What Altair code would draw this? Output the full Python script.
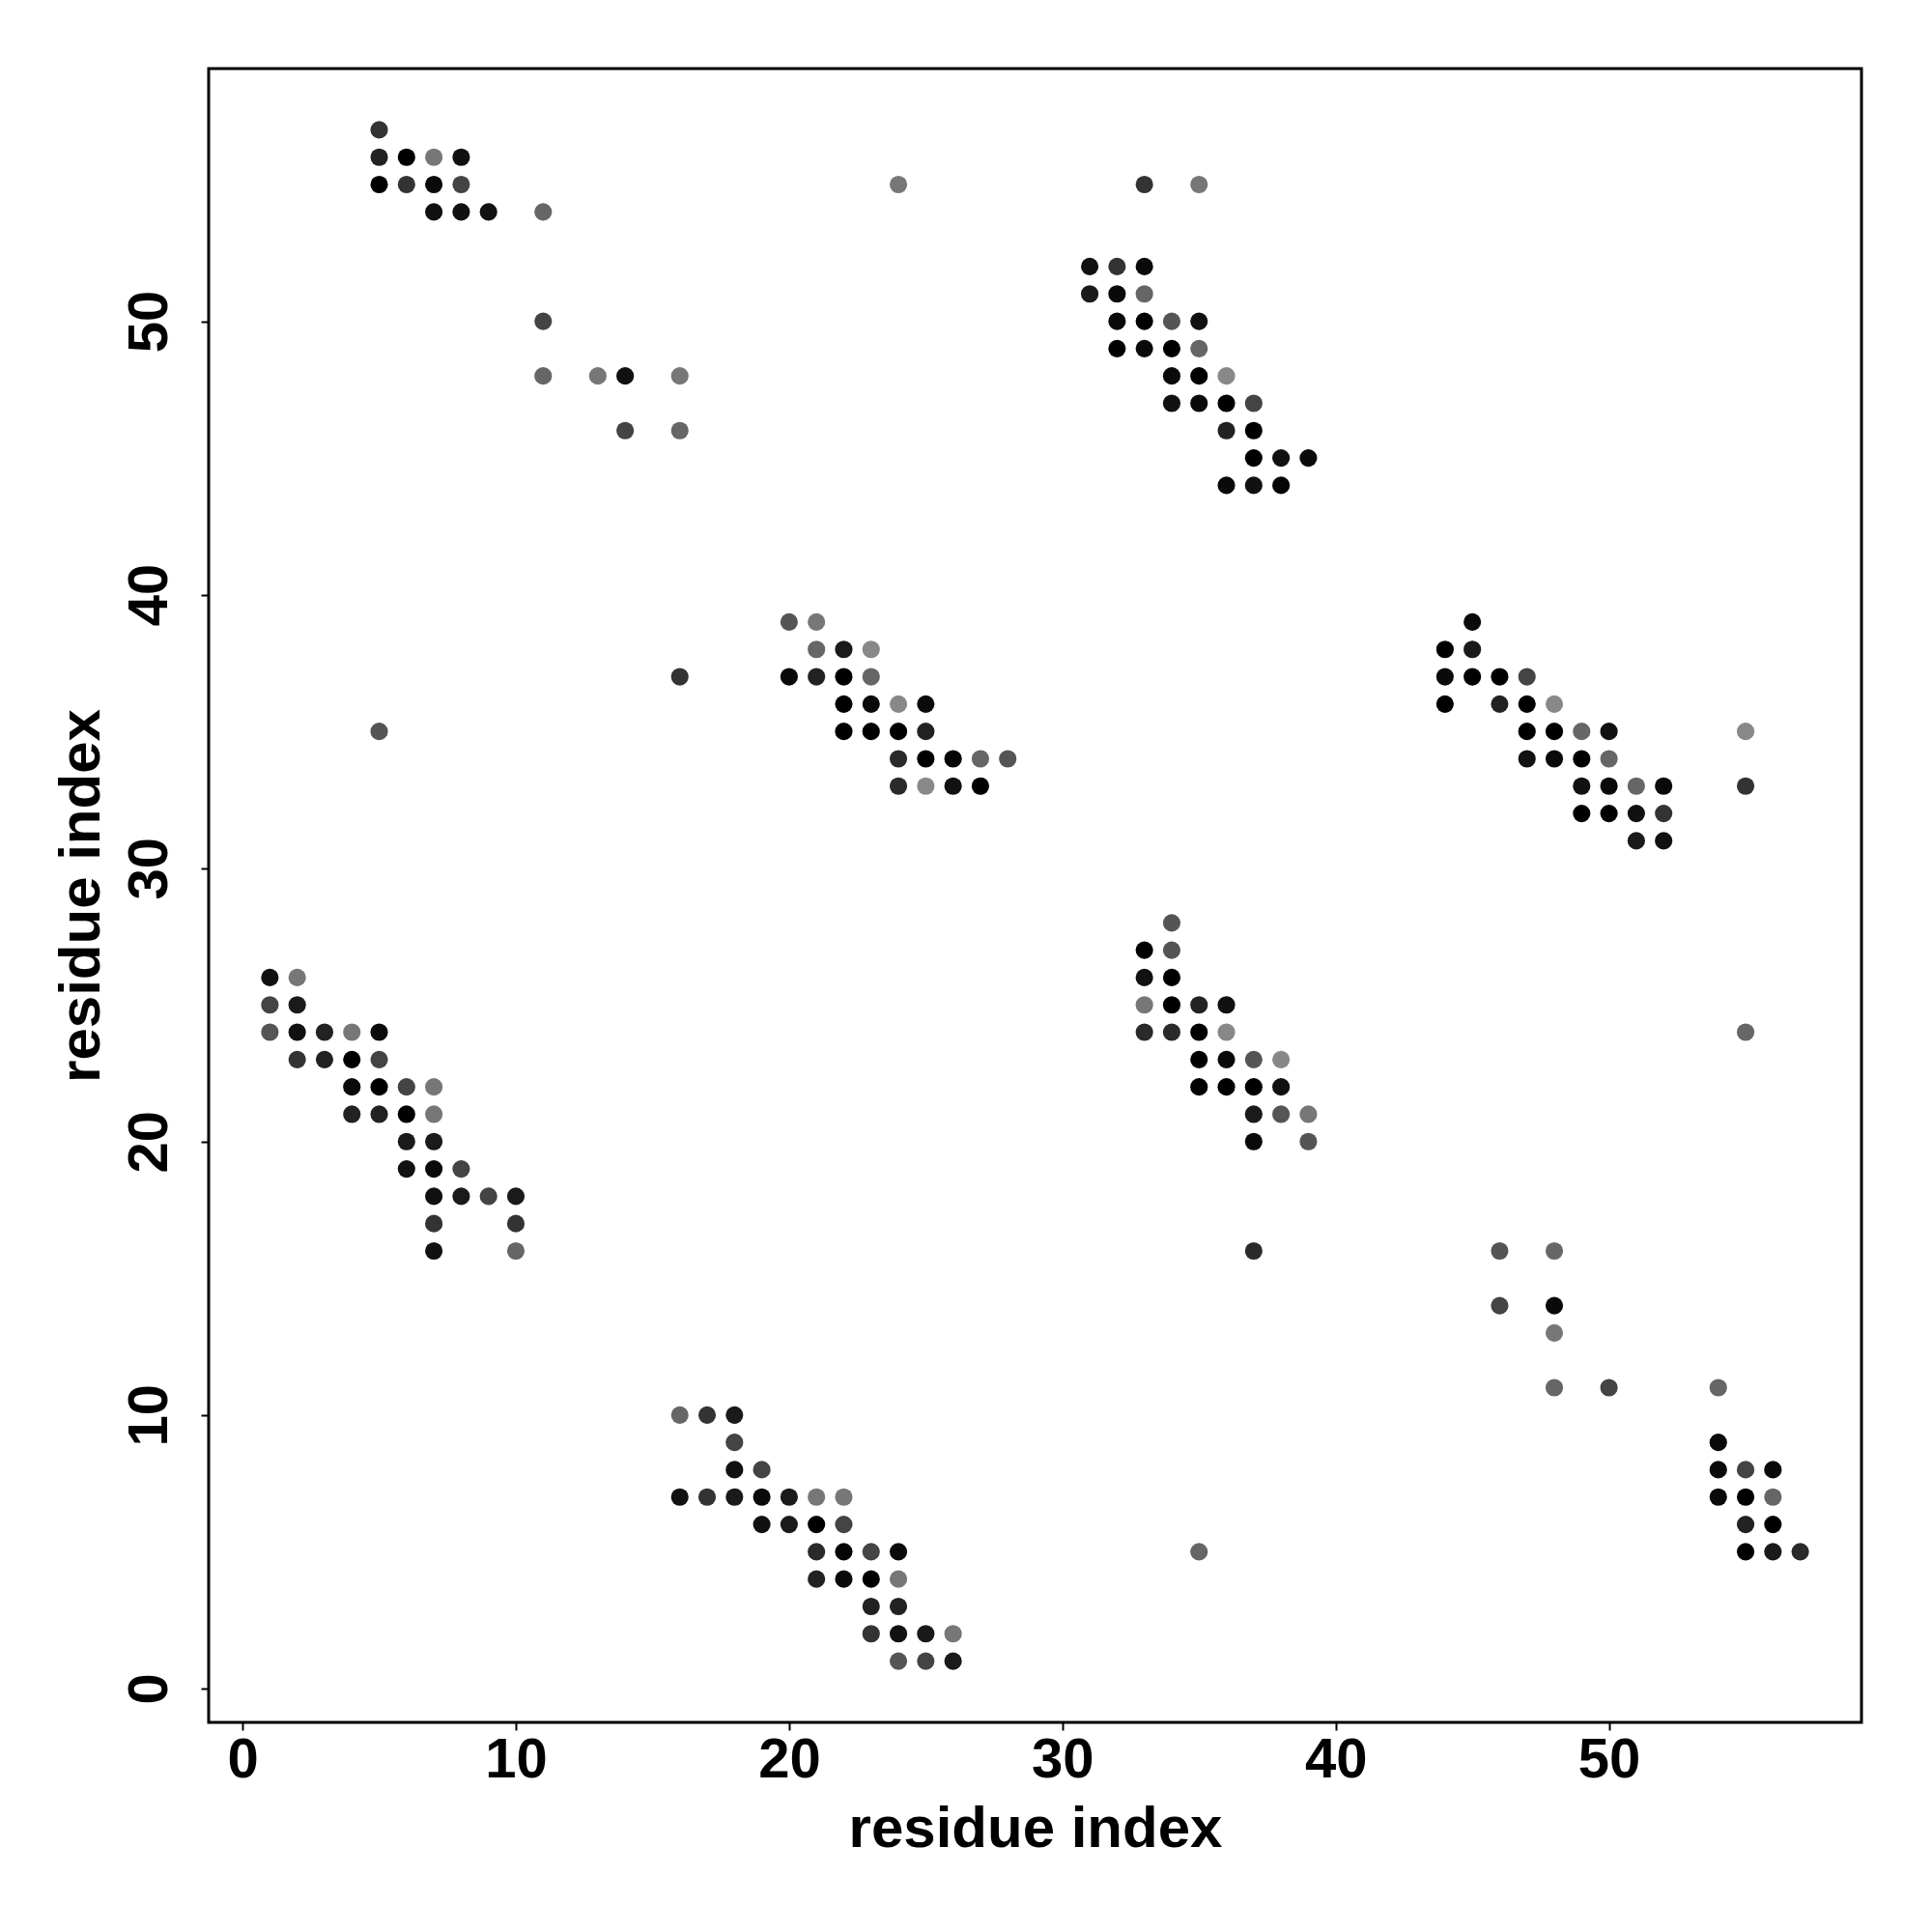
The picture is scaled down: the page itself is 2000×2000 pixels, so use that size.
import altair as alt
import pandas as pd

# (residue i, residue j, grey shade 0-255) read per cluster
cluster_a = [(5,57,51),(5,56,34),(6,56,0),(7,56,119),(8,56,17),
             (5,55,0),(6,55,51),(7,55,10),(8,55,68),
             (7,54,17),(8,54,17),(9,54,17),(11,54,102),
             (11,50,68),(11,48,102),(13,48,119),(14,48,17),(16,48,119),(14,46,68),(16,46,102)]
strays = [(24,55,119),(33,55,51),(35,55,119),(5,35,85),(55,24,102),(35,5,102),(37,16,42),
          (55,35,136),(55,33,51)]
cluster_c = [(16,37,51),
             (20,39,85),(21,39,119),
             (21,38,102),(22,38,26),(23,38,136),
             (20,37,10),(21,37,34),(22,37,0),(23,37,102),
             (22,36,0),(23,36,10),(24,36,136),(25,36,10),
             (22,35,0),(23,35,0),(24,35,0),(25,35,34),
             (24,34,42),(25,34,0),(26,34,5),(27,34,102),(28,34,85),
             (24,33,42),(25,33,136),(26,33,17),(27,33,0)]
cluster_d = [(31,52,17),(32,52,51),(33,52,10),
             (31,51,26),(32,51,10),(33,51,102),
             (32,50,10),(33,50,0),(34,50,85),(35,50,17),
             (32,49,0),(33,49,10),(34,49,0),(35,49,102),
             (34,48,10),(35,48,0),(36,48,136),
             (34,47,17),(35,47,10),(36,47,0),(37,47,68),
             (36,46,34),(37,46,0),
             (37,45,0),(38,45,17),(39,45,10),
             (36,44,10),(37,44,17),(38,44,5)]
cluster_e = [(45,39,10),
             (44,38,0),(45,38,26),
             (44,37,10),(45,37,0),(46,37,0),(47,37,68),
             (44,36,0),(46,36,34),(47,36,0),(48,36,136),
             (47,35,0),(48,35,0),(49,35,102),(50,35,17),
             (47,34,17),(48,34,10),(49,34,0),(50,34,102),
             (49,33,17),(50,33,10),(51,33,102),(52,33,10),
             (49,32,0),(50,32,0),(51,32,17),(52,32,51),
             (51,31,26),(52,31,17)]
cluster_f = [(1,26,17),(2,26,119),
             (1,25,68),(2,25,26),
             (1,24,85),(2,24,17),(3,24,34),(4,24,119),(5,24,10),
             (2,23,51),(3,23,34),(4,23,0),(5,23,68),
             (4,22,10),(5,22,0),(6,22,68),(7,22,119),
             (4,21,34),(5,21,34),(6,21,0),(7,21,119),
             (6,20,26),(7,20,26),
             (6,19,17),(7,19,10),(8,19,68),
             (7,18,17),(8,18,26),(9,18,68),(10,18,26),
             (7,17,51),(10,17,51),
             (7,16,17),(10,16,102)]
cluster_h = [(34,28,85),
             (33,27,0),(34,27,85),
             (33,26,17),(34,26,0),
             (33,25,119),(34,25,0),(35,25,34),(36,25,17),
             (33,24,42),(34,24,42),(35,24,0),(36,24,136),
             (35,23,0),(36,23,10),(37,23,85),(38,23,136),
             (35,22,0),(36,22,0),(37,22,0),(38,22,17),
             (37,21,26),(38,21,85),(39,21,119),
             (37,20,10),(39,20,85)]
cluster_i = [(46,16,85),(48,16,102),
             (46,14,68),(48,14,10),
             (48,13,119),
             (48,11,102),(50,11,68),(54,11,102),
             (54,9,10),
             (54,8,10),(55,8,68),(56,8,10),
             (54,7,10),(55,7,0),(56,7,102),
             (55,6,34),(56,6,0),
             (55,5,0),(56,5,26),(57,5,42)]
cluster_g = [(16,10,102),(17,10,51),(18,10,26),
             (18,9,68),
             (18,8,17),(19,8,68),
             (16,7,17),(17,7,51),(18,7,26),(19,7,10),(20,7,26),(21,7,119),(22,7,119),
             (19,6,17),(20,6,26),(21,6,0),(22,6,68),
             (21,5,42),(22,5,5),(23,5,68),(24,5,10),
             (21,4,34),(22,4,10),(23,4,0),(24,4,119),
             (23,3,34),(24,3,34),
             (23,2,51),(24,2,17),(25,2,26),(26,2,119),
             (24,1,85),(25,1,68),(26,1,26)]

tick_values = [0, 10, 20, 30, 40, 50]
axis_title = "residue index"

rows = []
for cl in [cluster_a, strays, cluster_c, cluster_d, cluster_e, cluster_f, cluster_h, cluster_i, cluster_g]:
    for i, j, g in cl:
        rows.append({"i": i, "j": j, "col": "#{0:02x}{0:02x}{0:02x}".format(g)})
df = pd.DataFrame(rows)

W, H = 1711, 1712
FONT = "Liberation Sans"

chart = alt.Chart(df).mark_circle(size=330, opacity=1).encode(
    x=alt.X("i:Q", scale=alt.Scale(domain=[-1.24, 59.24], nice=False, zero=False),
            axis=alt.Axis(values=tick_values, title=axis_title, grid=False, domain=False,
                          tickSize=8, tickWidth=2, tickColor="black",
                          labelFont=FONT, labelFontWeight="bold", labelFontSize=58, labelColor="black",
                          labelBaseline="alphabetic", labelPadding=48, labelFlush=False,
                          titleFont=FONT, titleFontWeight="bold", titleFontSize=60, titleColor="black",
                          titleX=W / 2, titleY=128, titleBaseline="alphabetic", titleAlign="center")),
    y=alt.Y("j:Q", scale=alt.Scale(domain=[-1.24, 59.24], nice=False, zero=False),
            axis=alt.Axis(values=tick_values, title=axis_title, grid=False, domain=False,
                          tickSize=8, tickWidth=2, tickColor="black",
                          labelFont=FONT, labelFontWeight="bold", labelFontSize=58, labelColor="black",
                          labelAngle=270, labelAlign="center", labelBaseline="alphabetic",
                          labelPadding=36, labelFlush=False,
                          titleFont=FONT, titleFontWeight="bold", titleFontSize=60, titleColor="black",
                          titleAngle=270, titleX=-114, titleY=H / 2, titleBaseline="alphabetic",
                          titleAlign="center")),
    color=alt.Color("col:N", scale=None),
).properties(
    width=W, height=H,
    background="white",
    autosize=alt.AutoSizeParams(type="none"),
    padding={"left": 208, "top": 63, "right": 65, "bottom": 209},
).configure_view(stroke="black", strokeWidth=3, fill="white")

chart.save("out.html", embed_options={"renderer": "svg", "actions": False})
